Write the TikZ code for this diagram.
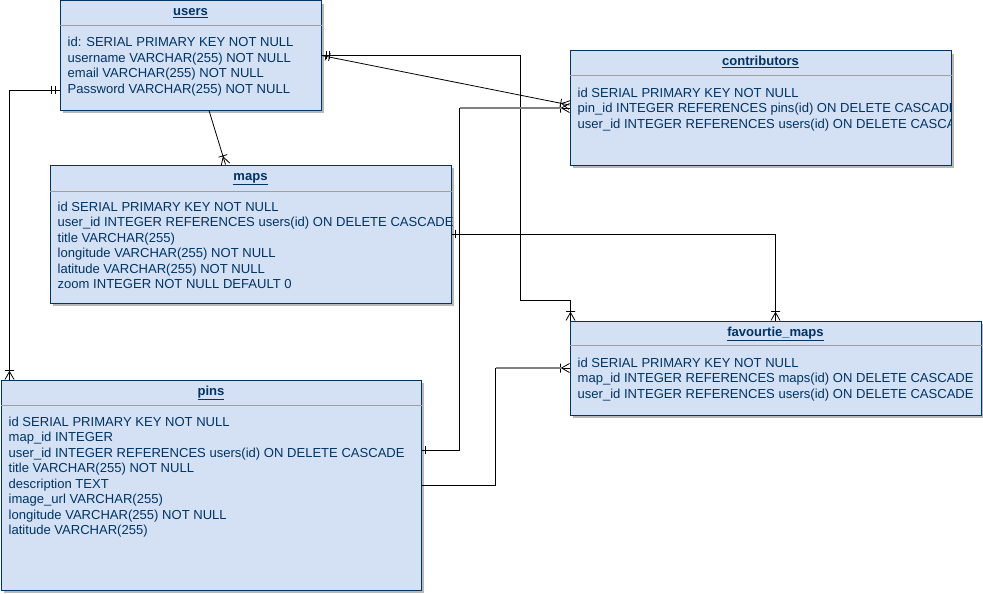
\documentclass[tikz,border=0pt]{standalone}
\usepackage{fontspec}
\setmainfont{Liberation Sans}
\usetikzlibrary{arrows.meta,shadows}

\definecolor{erfill}{HTML}{D4E1F5}
\definecolor{erline}{HTML}{003366}
\definecolor{ersep}{HTML}{A0A0A0}

\pgfdeclarearrow{
  name = Crow,
  setup code = {
    \pgfarrowssettipend{0pt}
    \pgfarrowssetlineend{0pt}
    \pgfarrowssetbackend{-9.5pt}
  },
  drawing code = {
    \pgfsetdash{}{0pt}
    \pgfsetlinewidth{0.8pt}
    \pgfpathmoveto{\pgfqpoint{0pt}{4.5pt}}
    \pgfpathlineto{\pgfqpoint{-8pt}{0pt}}
    \pgfpathlineto{\pgfqpoint{0pt}{-4.5pt}}
    \pgfpathmoveto{\pgfqpoint{-9pt}{4.5pt}}
    \pgfpathlineto{\pgfqpoint{-9pt}{-4.5pt}}
    \pgfusepathqstroke
  }
}
\pgfdeclarearrow{
  name = Onebar,
  setup code = {
    \pgfarrowssettipend{0pt}
    \pgfarrowssetlineend{0pt}
    \pgfarrowssetbackend{-4pt}
  },
  drawing code = {
    \pgfsetdash{}{0pt}
    \pgfsetlinewidth{0.8pt}
    \pgfpathmoveto{\pgfqpoint{-3.5pt}{4pt}}
    \pgfpathlineto{\pgfqpoint{-3.5pt}{-4pt}}
    \pgfusepathqstroke
  }
}
\pgfdeclarearrow{
  name = Twobar,
  setup code = {
    \pgfarrowssettipend{0pt}
    \pgfarrowssetlineend{0pt}
    \pgfarrowssetbackend{-8.5pt}
  },
  drawing code = {
    \pgfsetdash{}{0pt}
    \pgfsetlinewidth{0.8pt}
    \pgfpathmoveto{\pgfqpoint{-4.5pt}{4pt}}
    \pgfpathlineto{\pgfqpoint{-4.5pt}{-4pt}}
    \pgfpathmoveto{\pgfqpoint{-8pt}{4pt}}
    \pgfpathlineto{\pgfqpoint{-8pt}{-4pt}}
    \pgfusepathqstroke
  }
}

\begin{document}
\begin{tikzpicture}[x=1pt,y=1pt,
  tbl/.style={draw=erline, fill=erfill, line width=1pt, inner sep=0pt,
    drop shadow={shadow xshift=3pt, shadow yshift=-3pt, fill=black!28, opacity=1}},
  tbltitle/.style={anchor=base, inner sep=0pt, text=erline,
    font=\fontsize{13.05}{15.5}\selectfont\bfseries},
  rows/.style={anchor=north west, inner sep=0pt, align=left, text=erline,
    font=\fontsize{13.05}{15.5}\selectfont},
  sepline/.style={draw=ersep, line width=1pt},
  rel/.style={draw=black, line width=0.8pt},
  hl/.style={draw=black!50, line width=2pt, shorten >=8pt}]
\useasboundingbox (0,0) rectangle (983,-594);

\node[tbl, minimum width=261, minimum height=109] (users) at (190.5,-55.5) {};
\node[tbl, minimum width=381, minimum height=114] (contributors) at (760.5,-108) {};
\node[tbl, minimum width=401, minimum height=138] (maps) at (250.5,-234) {};
\node[tbl, minimum width=411, minimum height=94] (favmaps) at (775.5,-368) {};
\node[tbl, minimum width=420, minimum height=210] (pins) at (211,-485) {};

\draw[sepline] ([yshift=-25]users.north west) -- ([yshift=-25]users.north east);
\draw[sepline] ([yshift=-25]contributors.north west) -- ([yshift=-25]contributors.north east);
\draw[sepline] ([yshift=-27]maps.north west) -- ([yshift=-27]maps.north east);
\draw[sepline] ([yshift=-25]favmaps.north west) -- ([yshift=-25]favmaps.north east);
\draw[sepline] ([yshift=-26]pins.north west) -- ([yshift=-26]pins.north east);

\node[tbltitle] (users-title) at ([yshift=-15]users.north) {\underline{users}};
\node[tbltitle] (contributors-title) at ([yshift=-15]contributors.north) {\underline{contributors}};
\node[tbltitle] (maps-title) at ([yshift=-16]maps.north) {\underline{maps}};
\node[tbltitle] (favmaps-title) at ([yshift=-15.5]favmaps.north) {\underline{favourtie\_maps}};
\node[tbltitle] (pins-title) at ([yshift=-16]pins.north) {\underline{pins}};

\node[rows] (users-rows) at ([xshift=8,yshift=-36.5]users.north west)
  {id: SERIAL PRIMARY KEY NOT NULL\\username VARCHAR(255) NOT NULL\\email VARCHAR(255) NOT NULL\\Password VARCHAR(255) NOT NULL};
\begin{scope}
\clip ([xshift=1]contributors.south west) rectangle ([xshift=-1.5]contributors.north east);
\node[rows] (contributors-rows) at ([xshift=8,yshift=-37]contributors.north west)
  {id SERIAL PRIMARY KEY NOT NULL\\pin\_id INTEGER REFERENCES pins(id) ON DELETE CASCADE\\user\_id INTEGER REFERENCES users(id) ON DELETE CASCADE};
\end{scope}
\node[rows] (maps-rows) at ([xshift=8,yshift=-37]maps.north west)
  {id SERIAL PRIMARY KEY NOT NULL\\user\_id INTEGER REFERENCES users(id) ON DELETE CASCADE\\title VARCHAR(255)\\longitude VARCHAR(255) NOT NULL\\latitude VARCHAR(255) NOT NULL\\zoom INTEGER NOT NULL DEFAULT 0};
\node[rows] (favmaps-rows) at ([xshift=8,yshift=-37]favmaps.north west)
  {id SERIAL PRIMARY KEY NOT NULL\\map\_id INTEGER REFERENCES maps(id) ON DELETE CASCADE\\user\_id INTEGER REFERENCES users(id) ON DELETE CASCADE};
\node[rows] (pins-rows) at ([xshift=8,yshift=-37]pins.north west)
  {id SERIAL PRIMARY KEY NOT NULL\\map\_id INTEGER\\user\_id INTEGER REFERENCES users(id) ON DELETE CASCADE\\title VARCHAR(255) NOT NULL\\description TEXT\\image\_url VARCHAR(255)\\longitude VARCHAR(255) NOT NULL\\latitude VARCHAR(255)};

\draw[rel, {Twobar}-{Crow}] ([yshift=-34.5]users.west) -| ([xshift=9]pins.north west);
\draw[rel, -{Crow}] ([xshift=18.5]users.south) -- ([xshift=-25]maps.north);
\draw[rel, {Twobar}-{Crow}] (users.east) -- ([yshift=3]contributors.west);
\draw[rel, {Twobar}-{Crow}] (users.east) -| (520,-300) -| ([xshift=1]favmaps.north west);
\draw[rel, {Onebar}-{Crow}] (maps.east) -| (favmaps.north);
\draw[rel, {Onebar}-{Crow}] ([yshift=35]pins.east) -| ([xshift=-110]contributors.west) -- (contributors.west);
\draw[hl] ([xshift=-110]contributors.west) -- (contributors.west);
\draw[rel, -{Crow}] (pins.east) -| ([xshift=-74]favmaps.west) -- (favmaps.west);
\draw[hl] ([xshift=-74]favmaps.west) -- (favmaps.west);
\end{tikzpicture}
\end{document}
